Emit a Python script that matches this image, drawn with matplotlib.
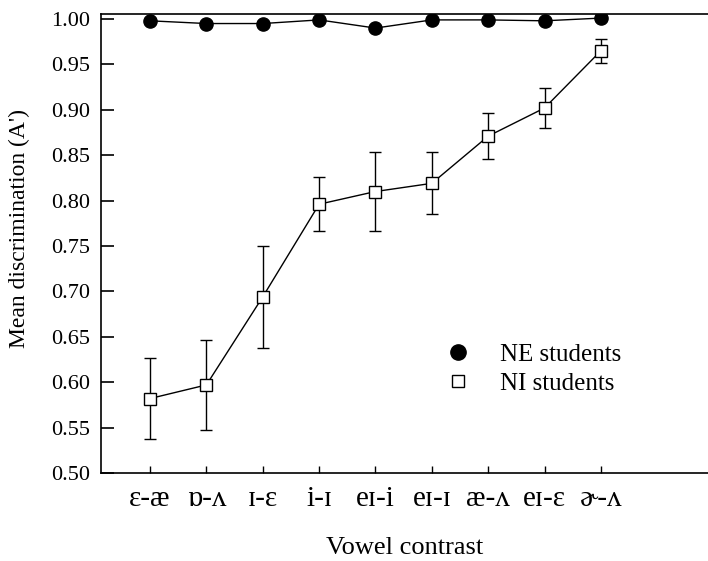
import matplotlib
matplotlib.use("Agg")
import matplotlib.pyplot as plt
from matplotlib.lines import Line2D
import numpy as np

plt.rcParams['font.family'] = ['Liberation Serif', 'DejaVu Serif']

categories = ["ɛ-æ", "ɒ-ʌ", "ɪ-ɛ", "i-ɪ", "eɪ-i", "eɪ-ɪ", "æ-ʌ", "eɪ-ɛ", "ɚ-ʌ"]
ne_values = [0.998, 0.995, 0.995, 0.999, 0.990, 0.999, 0.999, 0.998, 1.001]
ni_values = [0.582, 0.597, 0.694, 0.796, 0.810, 0.819, 0.871, 0.902, 0.965]
ni_err = [0.045, 0.050, 0.056, 0.030, 0.044, 0.034, 0.025, 0.022, 0.013]
yticks = [0.50, 0.55, 0.60, 0.65, 0.70, 0.75, 0.80, 0.85, 0.90, 0.95, 1.00]

fig = plt.figure(figsize=(7.08, 5.61), dpi=100)
ax = fig.add_axes([101/708, 88/561, 1 - 101/708, (473-14)/561])
x = np.arange(len(categories))

ax.errorbar(x, ni_values, yerr=ni_err, color='black', lw=1, capsize=4, elinewidth=1,
            capthick=1, marker='s', ms=9, mfc='white', mec='black', mew=1, zorder=3)
ax.plot(x, ne_values, color='black', lw=1, marker='o', ms=9.5, zorder=4)

ax.set_xlim(-0.87, 9.9)
ax.set_ylim(0.50, 1.0055)
ax.set_yticks(yticks)
ax.set_yticklabels([f"{v:.2f}" for v in yticks])
ax.set_xticks(x)
ax.set_xticklabels(categories)
ax.tick_params(axis='y', direction='in', length=9, width=1.2, labelsize=16, pad=8)
ax.tick_params(axis='x', direction='in', length=5, width=1, labelsize=21, pad=9)
ax.spines['right'].set_visible(False)
for s in ['left', 'bottom', 'top']:
    ax.spines[s].set_linewidth(1.2)

ax.set_ylabel("Mean discrimination (A')", fontsize=17)
ax.yaxis.set_label_coords(-0.117, 0.532)
ax.set_xlabel("Vowel contrast", fontsize=19, labelpad=18)

handles = [Line2D([], [], ls='none', marker='o', ms=11, color='black'),
           Line2D([], [], ls='none', marker='s', ms=8, mfc='white', mec='black', mew=1)]
fig.legend(handles, ['NE students', 'NI students'], frameon=False, fontsize=18,
           loc='upper left', bbox_to_anchor=(433/708, (561-331)/561), borderpad=0,
           handlelength=1.0, handletextpad=1.2, labelspacing=0.25)

fig.savefig("out.png", dpi=100)
